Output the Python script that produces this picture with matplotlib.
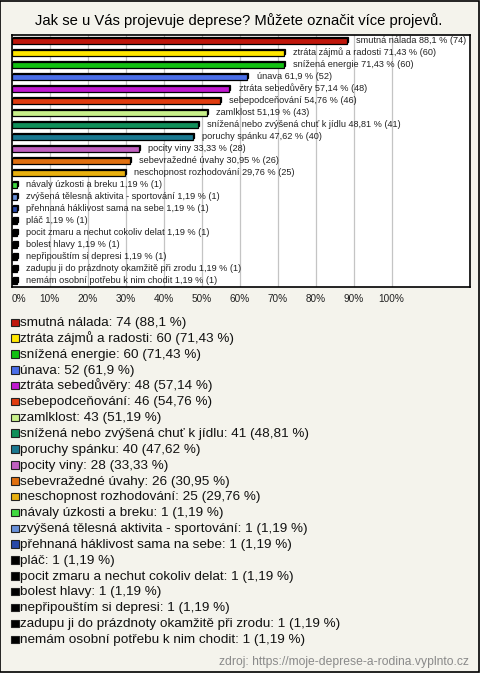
import matplotlib
matplotlib.use("Agg")
import matplotlib.pyplot as plt
from matplotlib.patches import Rectangle

plt.rcParams['font.family'] = ['Liberation Sans', 'DejaVu Sans']

TITLE = "Jak se u Vás projevuje deprese? Můžete označit více projevů."
SOURCE = "zdroj: https://moje-deprese-a-rodina.vyplnto.cz"

labels = [
    "smutná nálada", "ztráta zájmů a radosti", "snížená energie", "únava",
    "ztráta sebedůvěry", "sebepodceňování", "zamlklost",
    "snížená nebo zvýšená chuť k jídlu", "poruchy spánku", "pocity viny",
    "sebevražedné úvahy", "neschopnost rozhodování",
    "návaly úzkosti a breku", "zvýšená tělesná aktivita - sportování",
    "přehnaná háklivost sama na sebe", "pláč",
    "pocit zmaru a nechut cokoliv delat", "bolest hlavy",
    "nepřipouštím si depresi", "zadupu ji do prázdnoty okamžitě při zrodu",
    "nemám osobní potřebu k nim chodit",
]
counts = [74, 60, 60, 52, 48, 46, 43, 41, 40, 28, 26, 25,
          1, 1, 1, 1, 1, 1, 1, 1, 1]
percents = [88.1, 71.43, 71.43, 61.9, 57.14, 54.76, 51.19, 48.81, 47.62,
            33.33, 30.95, 29.76, 1.19, 1.19, 1.19, 1.19, 1.19, 1.19, 1.19,
            1.19, 1.19]
colors = ["#c0170c", "#ffe600", "#12c012", "#4a6ee8", "#c018d0", "#e03c10",
          "#c8f08a", "#10905a", "#1a7890", "#c060c0", "#e07010", "#e8b010",
          "#40d840", "#6890d8", "#2848a8", "#000000", "#000000", "#000000",
          "#000000", "#000000", "#000000"]
xticks = [0, 10, 20, 30, 40, 50, 60, 70, 80, 90, 100]

BG = "#f4f3ec"
W, H = 480, 673


def fmt(p):
    return f"{p:g}".replace(".", ",")


fig = plt.figure(figsize=(W / 100, H / 100), dpi=100, facecolor=BG)

# outer frame
fig.patches.append(Rectangle((0.001, 0.001), 0.997, 0.997, transform=fig.transFigure,
                             fill=False, edgecolor="black", lw=1.2))

fig.text(239 / W, 1 - 21 / H, TITLE, ha="center", va="center", fontsize=10.6)

# bar chart area
left, right, top, bottom = 11.5, 470, 35, 287
ax = fig.add_axes([left / W, 1 - bottom / H, (right - left) / W, (bottom - top) / H])
ax.set_facecolor("white")
ax.set_xlim(0, (right - left) / 3.8)
ax.set_ylim(len(labels) - 0.5, -0.5)
for t in xticks[1:]:
    ax.axvline(t, color="#c4c4c4", lw=0.9, zorder=0)
for s in ax.spines.values():
    s.set_linewidth(1.2)
ax.set_xticks([])
ax.set_yticks([])

dx, dy = 0.45, 0.14
h = 0.42
for i, (p, c, n, lab) in enumerate(zip(percents, colors, counts, labels)):
    # back face gives the 3D look
    ax.add_patch(Rectangle((dx, i - h / 2 - dy), p, h, facecolor=c,
                           edgecolor="black", lw=0.9, zorder=2))
    ax.add_patch(Rectangle((0.15, i - h / 2), p, h, facecolor=c,
                           edgecolor="black", lw=0.9, zorder=3))
    ax.text(p + 2.6, i - 0.05, f"{lab} {fmt(p)} % ({n})", ha="left",
            va="center", fontsize=6.6, color="#222222", zorder=4)

for t in xticks:
    xp = left + t * 3.8
    fig.text((xp + (7 if t == 0 else 0)) / W, 1 - 299 / H, f"{t}%",
             ha="center", va="center", fontsize=7.2, color="#222222")

# legend
for i, (p, c, n, lab) in enumerate(zip(percents, colors, counts, labels)):
    base = 326 + i * 15.85
    fig.patches.append(Rectangle((11 / W, 1 - base / H), 7.5 / W, 7.5 / H,
                                 transform=fig.transFigure, facecolor=c,
                                 edgecolor="#222222", lw=0.8))
    fig.text(20 / W, 1 - base / H, f"{lab}: {n} ({fmt(p)} %)", ha="left",
             va="baseline", fontsize=9.7, color="#111111")

fig.text(469 / W, 1 - 665 / H, SOURCE, ha="right", va="baseline",
         fontsize=8.7, color="#8a8a8a")

fig.savefig("out.png", dpi=100, facecolor=BG)
